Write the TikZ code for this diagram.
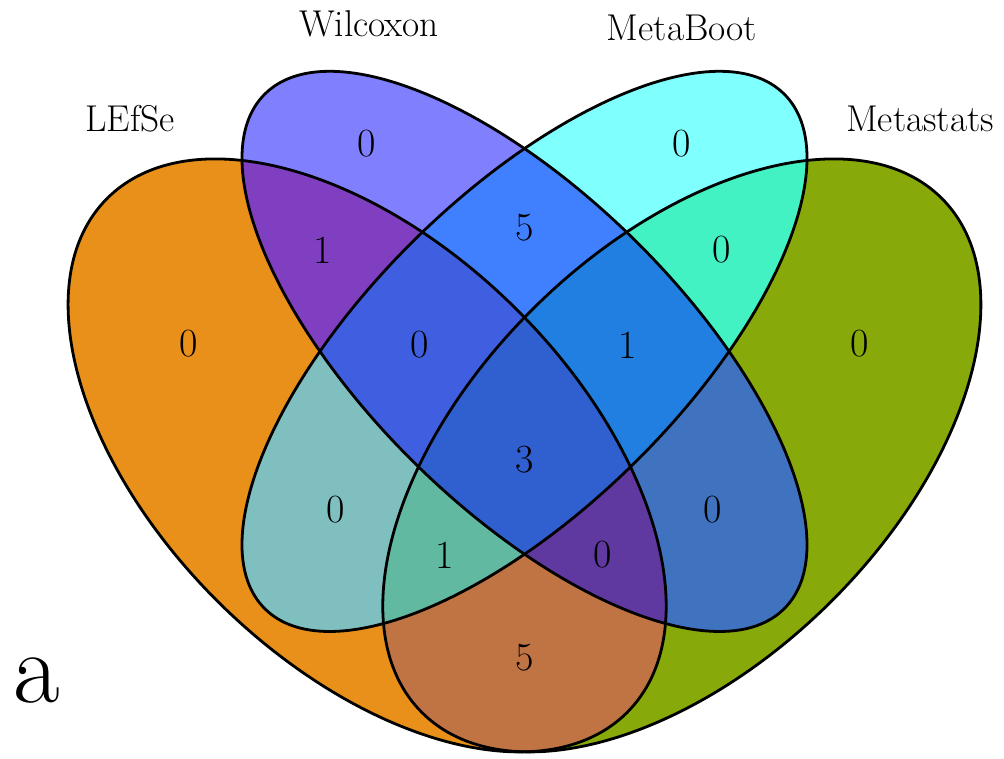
\documentclass[tikz,border=0pt]{standalone}
\definecolor{cL}{HTML}{E89019}
\definecolor{cW}{HTML}{8080FF}
\definecolor{cB}{HTML}{80FFFF}
\definecolor{cM}{HTML}{87A90A}
\definecolor{cLW}{HTML}{803FC0}
\definecolor{cLB}{HTML}{80BFBF}
\definecolor{cLM}{HTML}{C07444}
\definecolor{cWB}{HTML}{4080FF}
\definecolor{cWM}{HTML}{4073BF}
\definecolor{cBM}{HTML}{43F2C3}
\definecolor{cLWB}{HTML}{405FE0}
\definecolor{cLWM}{HTML}{6039A0}
\definecolor{cLBM}{HTML}{60B9A0}
\definecolor{cWBM}{HTML}{207FE0}
\definecolor{cLWBM}{HTML}{3060D0}
\newcommand\venL[1]{\path[#1, rotate around={135:(0.35,0.47)}] (0.35,0.47) ellipse [x radius=0.35, y radius=0.2];}
\newcommand\venW[1]{\path[#1, rotate around={135:(0.5,0.57)}] (0.5,0.57) ellipse [x radius=0.35, y radius=0.15];}
\newcommand\venB[1]{\path[#1, rotate around={45:(0.5,0.57)}] (0.5,0.57) ellipse [x radius=0.35, y radius=0.15];}
\newcommand\venM[1]{\path[#1, rotate around={45:(0.65,0.47)}] (0.65,0.47) ellipse [x radius=0.35, y radius=0.2];}
\tikzset{
  lab/.style={font=\rmfamily\fontsize{28}{32}\selectfont, inner sep=0pt, anchor=base},
  num/.style={font=\rmfamily\fontsize{30}{34}\selectfont, inner sep=0pt},
  outline/.style={draw=black, line width=2.1pt}
}
\begin{document}
\begin{tikzpicture}[x=0.75pt, y=-0.75pt]
\useasboundingbox (0,0) rectangle (1004,759);
\begin{scope}[shift={(0,944.2)}, x={(0.75pt,0pt)}, y={(0pt,0.75pt)}, xscale=1049, yscale=1040]
  % single sets
  \venL{fill=cL}
  \venW{fill=cW}
  \venB{fill=cB}
  \venM{fill=cM}
  % pairs
  \begin{scope}\venL{clip}\venW{fill=cLW}\end{scope}
  \begin{scope}\venL{clip}\venB{fill=cLB}\end{scope}
  \begin{scope}\venL{clip}\venM{fill=cLM}\end{scope}
  \begin{scope}\venW{clip}\venB{fill=cWB}\end{scope}
  \begin{scope}\venW{clip}\venM{fill=cWM}\end{scope}
  \begin{scope}\venB{clip}\venM{fill=cBM}\end{scope}
  % triples
  \begin{scope}\venL{clip}\venW{clip}\venB{fill=cLWB}\end{scope}
  \begin{scope}\venL{clip}\venW{clip}\venM{fill=cLWM}\end{scope}
  \begin{scope}\venL{clip}\venB{clip}\venM{fill=cLBM}\end{scope}
  \begin{scope}\venW{clip}\venB{clip}\venM{fill=cWBM}\end{scope}
  % all four
  \begin{scope}\venL{clip}\venW{clip}\venB{clip}\venM{fill=cLWBM}\end{scope}
  % outlines
  \venL{outline}
  \venW{outline}
  \venB{outline}
  \venM{outline}
\end{scope}
% set labels
\node[lab] (tL) at (130,132) {LEfSe};
\node[lab] (tW) at (369,37) {Wilcoxon};
\node[lab] (tB) at (682,41) {MetaBoot};
\node[lab] (tM) at (920,132) {Metastats};
% region counts
\node[num] (nL) at (189,344) {0};
\node[num] (nW) at (367,144) {0};
\node[num] (nB) at (682,144) {0};
\node[num] (nM) at (860,344) {0};
\node[num] (nLW) at (323,250) {1};
\node[num] (nWB) at (525,228) {5};
\node[num] (nBM) at (722,250) {0};
\node[num] (nLWB) at (420,345) {0};
\node[num] (nWBM) at (628,345) {1};
\node[num] (nAll) at (525,460) {3};
\node[num] (nLB) at (336,510) {0};
\node[num] (nWM) at (713,510) {0};
\node[num] (nLBM) at (445,555) {1};
\node[num] (nLWM) at (603,555) {0};
\node[num] (nLM) at (525,658) {5};
% panel letter
\node[font=\rmfamily\fontsize{76}{86}\selectfont, inner sep=0pt, anchor=base] (panel) at (37,702) {a};
\end{tikzpicture}
\end{document}
